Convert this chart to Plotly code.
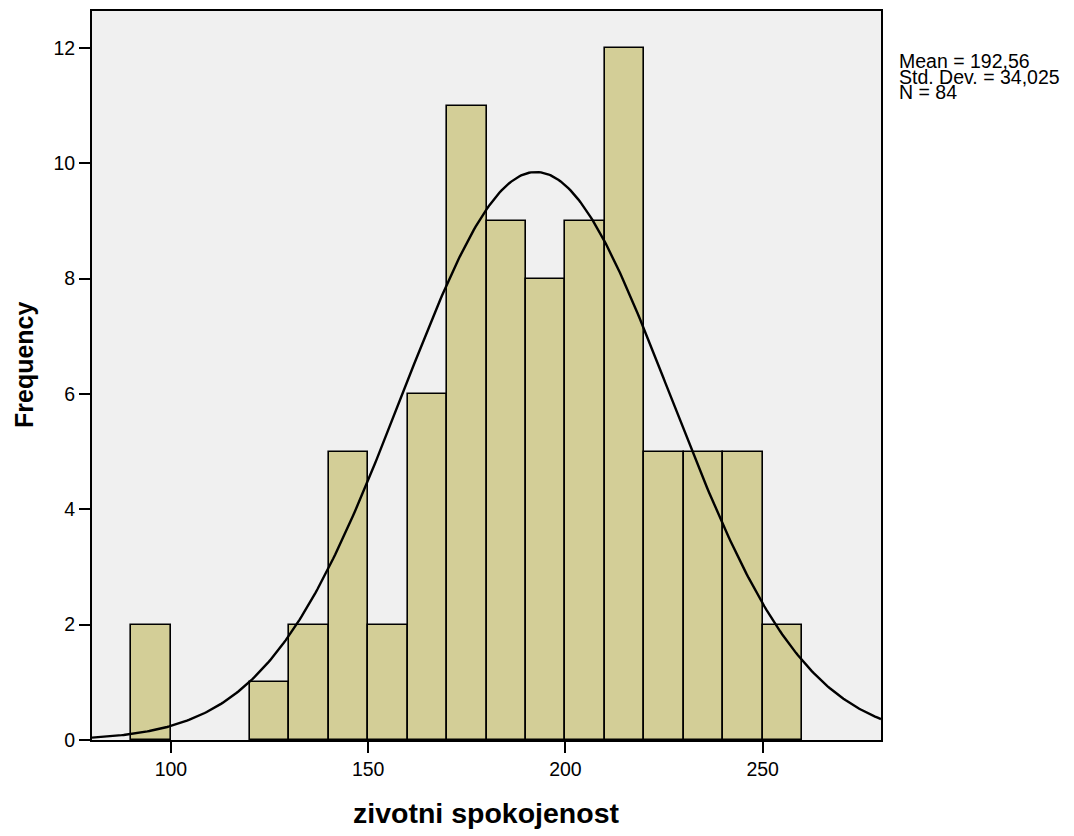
import numpy as np
import plotly.graph_objects as go

# Data
bin_left = [90, 100, 110, 120, 130, 140, 150, 160, 170, 180, 190, 200, 210, 220, 230, 240, 250]
counts   = [2, 0, 0, 1, 2, 5, 2, 6, 11, 9, 8, 9, 12, 5, 5, 5, 2]
bin_width = 10
mean_val = 192.56
std_val = 34.025
n_val = 84
x_ticks = [100, 150, 200, 250]
y_ticks = [0, 2, 4, 6, 8, 10, 12]

centers = [b + bin_width / 2 for b in bin_left]
bar_heights = [c if c > 0 else None for c in counts]

# normal curve from the stated statistics
xs = np.linspace(80, 280, 400)
ys = n_val * bin_width / (std_val * np.sqrt(2 * np.pi)) * np.exp(-0.5 * ((xs - mean_val) / std_val) ** 2)

fig = go.Figure()
fig.add_trace(go.Bar(
    x=centers, y=bar_heights, width=bin_width,
    marker=dict(color="#d3ce97", line=dict(color="black", width=1.6)),
    hoverinfo="skip",
))
fig.add_trace(go.Scatter(
    x=xs, y=ys, mode="lines", line=dict(color="black", width=2.4), hoverinfo="skip",
))

# page body has an 8px margin; figure pixels = page pixels - 8
OFF = 8
W, H = 1074 - OFF, 836 - OFF
L, R, T, B = 92 - OFF, 881 - OFF, 9 - OFF, 740 - OFF

font_family = "Arial, Liberation Sans, sans-serif"
fig.update_layout(
    width=W, height=H,
    margin=dict(l=L, r=W - R, t=T, b=H - B),
    paper_bgcolor="white",
    plot_bgcolor="#f0f0f0",
    showlegend=False,
    bargap=0,
    font=dict(family=font_family, size=19, color="black"),
)
fig.update_xaxes(
    range=[80, 280], tickvals=x_ticks, ticktext=[str(v) for v in x_ticks],
    ticks="outside", ticklen=11, tickwidth=1.6, tickcolor="black",
    showline=True, linecolor="black", linewidth=2, mirror=True,
    showgrid=False, zeroline=False, tickfont=dict(size=19.5),
)
fig.update_yaxes(
    range=[0, 12.64], tickvals=y_ticks, ticktext=[str(v) for v in y_ticks],
    ticks="outside", ticklen=11, tickwidth=1.6, tickcolor="black",
    showline=True, linecolor="black", linewidth=2, mirror=True,
    showgrid=False, zeroline=False, tickfont=dict(size=19.5),
)

def px_x(p):
    return (p - 92) / (881 - 92)

def px_y(p):
    return (740 - p) / (740 - 9)

annotations = [
    dict(text="<b>zivotni spokojenost</b>", x=px_x(486), y=px_y(813), xref="paper", yref="paper",
         showarrow=False, font=dict(size=28.5), xanchor="center", yanchor="middle"),
    dict(text="<b>Frequency</b>", x=px_x(24), y=px_y(364), xref="paper", yref="paper",
         showarrow=False, font=dict(size=25), textangle=-90, xanchor="center", yanchor="middle"),
]
stat_lines = ["Mean = 192,56", "Std. Dev. = 34,025", "N = 84"]
for i, t in enumerate(stat_lines):
    annotations.append(dict(
        text=t, x=px_x(897), y=px_y(59 + i * 15.7), xref="paper", yref="paper",
        showarrow=False, font=dict(size=19.5), xanchor="left", yanchor="middle", align="left",
    ))
fig.update_layout(annotations=annotations)

fig.write_html("out.html")
